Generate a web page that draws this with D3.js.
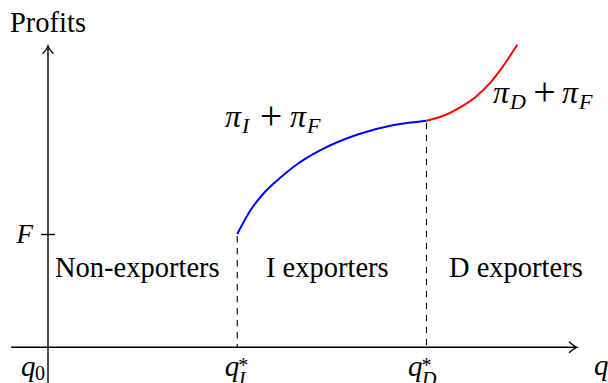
<!DOCTYPE html>
<html>
<head>
<meta charset="utf-8">
<script src="https://cdn.jsdelivr.net/npm/d3@7"></script>
<style>
  html, body { margin: 0; padding: 0; background: #fff; }
  svg { display: block; }
  text { font-family: "Liberation Serif", "Times New Roman", serif; fill: #000; }
  .math { font-style: italic; }
</style>
</head>
<body>
<svg id="chart" width="608" height="383"></svg>
<script>
// Output thresholds (in units of q) and the fixed cost level
const thresholdQ   = [0, 1, 2];
const thresholdSub = ["0", "I", "D"];
const thresholdSup = ["", "*", "*"];
const fixedCost = 1;

// Profit of indirect exporters (pi_I + pi_F), between q*_I and q*_D
const indirectQ      = [1.00, 1.07, 1.14, 1.23, 1.32, 1.44, 1.64, 1.82, 2.00];
const indirectProfit = [1.00, 1.21, 1.36, 1.50, 1.62, 1.74, 1.88, 1.96, 2.00];

// Profit of direct exporters (pi_D + pi_F), beyond q*_D
const directQ      = [2.00, 2.10, 2.18, 2.26, 2.34, 2.40, 2.48];
const directProfit = [2.00, 2.05, 2.12, 2.21, 2.34, 2.47, 2.67];

// Region labels
const regionLabels = ["Non-exporters", "I exporters", "D exporters"];

const svg = d3.select("#chart");

const x = d3.scaleLinear().domain([0, 2]).range([48, 426.5]);
const y = d3.scaleLinear().domain([0, 1]).range([347.3, 234]);

const ink = "#000";

// Horizontal axis with open arrow head
const xAxisStart = x(-0.195), xAxisEnd = x(2.795);
svg.append("line")
  .attr("x1", xAxisStart).attr("x2", xAxisEnd - 0.5)
  .attr("y1", y(0)).attr("y2", y(0))
  .attr("stroke", ink).attr("stroke-width", 1.4);
svg.append("path")
  .attr("d", `M${xAxisEnd - 8},${y(0) - 5.5} Q${xAxisEnd - 3},${y(0) - 1} ${xAxisEnd},${y(0)} Q${xAxisEnd - 3},${y(0) + 1} ${xAxisEnd - 8},${y(0) + 5.5}`)
  .attr("fill", "none").attr("stroke", ink).attr("stroke-width", 1.3);

// Vertical axis with open arrow head
const yAxisTop = y(2.66);
svg.append("line")
  .attr("x1", x(0)).attr("x2", x(0))
  .attr("y1", 383).attr("y2", yAxisTop + 0.5)
  .attr("stroke", ink).attr("stroke-width", 1.4);
svg.append("path")
  .attr("d", `M${x(0) - 5.5},${yAxisTop + 8} Q${x(0) - 1},${yAxisTop + 3} ${x(0)},${yAxisTop} Q${x(0) + 1},${yAxisTop + 3} ${x(0) + 5.5},${yAxisTop + 8}`)
  .attr("fill", "none").attr("stroke", ink).attr("stroke-width", 1.3);

// Fixed-cost tick on the vertical axis
const yAxis = d3.axisLeft(y).tickValues([fixedCost]).tickSize(7).tickFormat(() => "");
const yAxisG = svg.append("g").attr("transform", `translate(${x(0)},0)`).call(yAxis);
yAxisG.select(".domain").remove();
yAxisG.selectAll(".tick line").attr("x1", 7).attr("x2", -7).attr("stroke", ink).attr("stroke-width", 1.4);
svg.append("text").attr("class", "math")
  .attr("x", x(0) - 15).attr("y", y(fixedCost) + 9)
  .attr("text-anchor", "end").attr("font-size", 27).text("F");

// Axis titles
svg.append("text").attr("x", 10).attr("y", 32).attr("font-size", 28.5).text("Profits");
svg.append("text").attr("class", "math").attr("x", 594).attr("y", 375).attr("font-size", 29).text("q");

// Dashed guides at the export thresholds
const dashed = [
  { q: thresholdQ[1], top: indirectProfit[0] },
  { q: thresholdQ[2], top: directProfit[0] }
];
svg.selectAll("line.guide").data(dashed).join("line").attr("class", "guide")
  .attr("x1", d => x(d.q)).attr("x2", d => x(d.q))
  .attr("y1", d => y(d.top) + 2).attr("y2", y(0))
  .attr("stroke", ink).attr("stroke-width", 1.1).attr("stroke-dasharray", "6.5,5.5");

// Profit curves
const line = d3.line().x(d => x(d[0])).y(d => y(d[1])).curve(d3.curveMonotoneX);
svg.append("path")
  .attr("d", line(d3.zip(indirectQ, indirectProfit)))
  .attr("fill", "none").attr("stroke", "#0000ff").attr("stroke-width", 2);
svg.append("path")
  .attr("d", line(d3.zip(directQ, directProfit)))
  .attr("fill", "none").attr("stroke", "#ff0000").attr("stroke-width", 2);

// Threshold labels under the horizontal axis
const labelLeft = [27, 12.5, 18.5];   // distance from tick to the left edge of "q"
thresholdQ.forEach((q, i) => {
  const x0 = x(q) - labelLeft[i];
  const g = svg.append("text").attr("class", "math").attr("font-size", 29);
  g.append("tspan").attr("x", x0).attr("y", 376).text("q");
  if (thresholdSup[i]) {
    g.append("tspan").attr("x", x0 + 13.5).attr("y", 372).attr("font-size", 20)
      .attr("font-style", "normal").text(thresholdSup[i]);
    g.append("tspan").attr("x", x0 + 14).attr("y", 386).attr("font-size", 20).text(thresholdSub[i]);
  } else {
    g.append("tspan").attr("x", x0 + 14).attr("y", 380).attr("font-size", 20)
      .attr("font-style", "normal").text(thresholdSub[i]);
  }
});

// Curve labels: pi_I + pi_F and pi_D + pi_F
function curveLabel(px, py, s1, plusMid, secondPi) {
  const g = svg.append("g");
  const t = g.append("text").attr("font-size", 32);
  t.append("tspan").attr("class", "math").attr("x", px).attr("y", py).text("π");
  t.append("tspan").attr("class", "math").attr("x", px + 17).attr("y", py + 6).attr("font-size", 22).text(s1);
  t.append("tspan").attr("class", "math").attr("x", px + secondPi).attr("y", py).text("π");
  t.append("tspan").attr("class", "math").attr("x", px + secondPi + 17).attr("y", py + 6).attr("font-size", 22).text("F");
  g.append("text").attr("x", px + plusMid).attr("y", py + 1.5)
    .attr("text-anchor", "middle").attr("font-size", 40).text("+");
}
curveLabel(225, 127, "I", 46, 65);
curveLabel(493, 103, "D", 51.5, 69);

// Region labels
const regionX = [55, 266, 449];
svg.selectAll("text.region").data(regionLabels).join("text").attr("class", "region")
  .attr("x", (d, i) => regionX[i]).attr("y", 277).attr("font-size", 28.5).text(d => d);
</script>
</body>
</html>
